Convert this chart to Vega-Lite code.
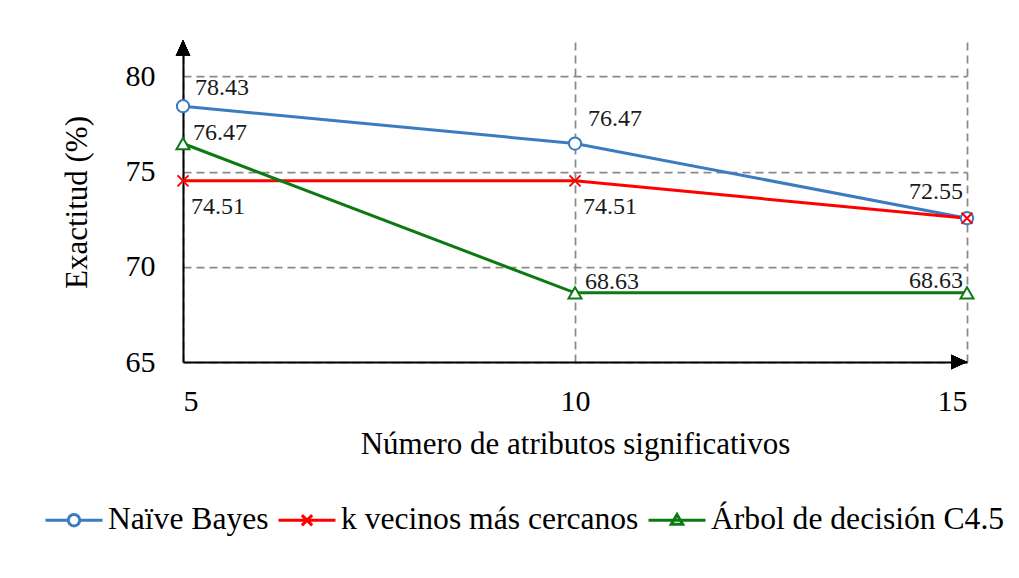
{
  "$schema": "https://vega.github.io/schema/vega-lite/v6.json",
  "width": 784,
  "height": 320,
  "autosize": {"type": "none"},
  "padding": {"left": 183, "top": 42, "right": 52, "bottom": 216},
  "background": "white",
  "config": {
    "view": {"stroke": null},
    "font": "Liberation Serif",
    "axis": {
      "domainColor": "black",
      "domainWidth": 2,
      "ticks": false,
      "tickSize": 0,
      "gridColor": "#8a8a8a",
      "gridDash": [8, 5],
      "gridWidth": 1.75,
      "labelFont": "Liberation Serif",
      "labelFontSize": 30,
      "labelColor": "black",
      "titleFont": "Liberation Serif",
      "titleFontSize": 31,
      "titleFontWeight": "normal",
      "titleColor": "black"
    },
    "legend": {
      "orient": "none",
      "legendX": -139,
      "legendY": 448,
      "direction": "horizontal",
      "symbolSize": 3249,
      "symbolStrokeWidth": 3,
      "symbolFillColor": "transparent",
      "symbolOpacity": 1,
      "labelFont": "Liberation Serif",
      "labelFontSize": 31.6,
      "labelColor": "black",
      "labelOffset": 4,
      "columnPadding": 3,
      "labelLimit": 600
    },
    "text": {"font": "Liberation Serif"}
  },
  "data": {
    "values": [
      {"atributos": 5, "serie": "Naïve Bayes", "exactitud": 78.43},
      {"atributos": 10, "serie": "Naïve Bayes", "exactitud": 76.47},
      {"atributos": 15, "serie": "Naïve Bayes", "exactitud": 72.55},
      {"atributos": 5, "serie": "k vecinos más cercanos", "exactitud": 74.51},
      {"atributos": 10, "serie": "k vecinos más cercanos", "exactitud": 74.51},
      {"atributos": 15, "serie": "k vecinos más cercanos", "exactitud": 72.55},
      {"atributos": 5, "serie": "Árbol de decisión C4.5", "exactitud": 76.47},
      {"atributos": 10, "serie": "Árbol de decisión C4.5", "exactitud": 68.63},
      {"atributos": 15, "serie": "Árbol de decisión C4.5", "exactitud": 68.63}
    ]
  },
  "encoding": {
    "x": {
      "field": "atributos",
      "type": "quantitative",
      "scale": {"domain": [5, 15], "nice": false, "zero": false},
      "axis": {
        "values": [5, 10, 15],
        "format": "d",
        "title": "Número de atributos significativos",
        "labelPadding": 24,
        "titlePadding": 13,
        "grid": true
      }
    },
    "y": {
      "field": "exactitud",
      "type": "quantitative",
      "scale": {"domain": [65, 81.8], "nice": false, "zero": false},
      "axis": {
        "values": [65, 70, 75, 80],
        "format": "d",
        "title": "Exactitud (%)",
        "labelPadding": 28,
        "titlePadding": 32,
        "grid": true
      }
    }
  },
  "layer": [
    {
      "mark": {"type": "point", "filled": false, "strokeWidth": 3, "opacity": 0},
      "encoding": {
        "color": {
          "field": "serie",
          "type": "nominal",
          "scale": {
            "domain": ["Naïve Bayes", "k vecinos más cercanos", "Árbol de decisión C4.5"],
            "range": ["#3b7cc0", "#ff0000", "#0c7a12"]
          },
          "legend": {"title": null, "labelFont": "Liberation Serif"}
        },
        "shape": {
          "field": "serie",
          "type": "nominal",
          "scale": {
            "domain": ["Naïve Bayes", "k vecinos más cercanos", "Árbol de decisión C4.5"],
            "range": [
              "M-1,0L-0.2,0M0.2,0L1,0M0.2,0A0.2,0.2,0,1,1,-0.2,0A0.2,0.2,0,1,1,0.2,0",
              "M-1,0L1,0M-0.18,-0.18L0.18,0.18M-0.18,0.18L0.18,-0.18",
              "M-1,0L1,0M0,-0.2L0.2,0.14L-0.2,0.14Z"
            ]
          },
          "legend": {"title": null, "labelFont": "Liberation Serif"}
        }
      }
    },
    {
      "mark": {"type": "line", "strokeWidth": 3},
      "encoding": {
        "color": {"field": "serie", "type": "nominal", "legend": null}
      }
    },
    {
      "transform": [{"filter": "datum.serie == 'Naïve Bayes'"}],
      "mark": {"type": "point", "shape": "circle", "size": 150, "filled": true, "fill": "white", "stroke": "#3b7cc0", "strokeWidth": 2, "opacity": 1}
    },
    {
      "transform": [{"filter": "datum.serie == 'k vecinos más cercanos'"}],
      "mark": {"type": "point", "shape": "M-1,-1L1,1M-1,1L1,-1", "size": 121, "filled": false, "stroke": "#ff0000", "strokeWidth": 2, "opacity": 1}
    },
    {
      "transform": [{"filter": "datum.serie == 'Árbol de decisión C4.5'"}],
      "mark": {"type": "point", "shape": "triangle-up", "size": 170, "filled": true, "fill": "white", "stroke": "#0c7a12", "strokeWidth": 2, "opacity": 1}
    },
    {
      "mark": {"type": "point", "shape": "M0,0L0.45,1L-0.45,1Z", "size": 1024, "filled": true, "color": "black", "opacity": 1},
      "encoding": {"x": {"datum": 5}, "y": {"datum": 81.9}}
    },
    {
      "mark": {"type": "point", "shape": "M0,0L-1,-0.45L-1,0.45Z", "size": 1024, "filled": true, "color": "black", "opacity": 1},
      "encoding": {"x": {"datum": 15}, "y": {"datum": 65}}
    },
    {
      "transform": [{"filter": "datum.serie == 'Naïve Bayes' && datum.atributos == 5"}],
      "mark": {"type": "text", "font": "Liberation Serif", "align": "left", "baseline": "middle", "dx": 12, "dy": -18, "fontSize": 24, "color": "#1a1a1a"},
      "encoding": {"text": {"field": "exactitud", "type": "quantitative", "format": ".2f"}}
    },
    {
      "transform": [{"filter": "datum.serie == 'Naïve Bayes' && datum.atributos == 10"}],
      "mark": {"type": "text", "font": "Liberation Serif", "align": "left", "baseline": "middle", "dx": 13, "dy": -25, "fontSize": 24, "color": "#1a1a1a"},
      "encoding": {"text": {"field": "exactitud", "type": "quantitative", "format": ".2f"}}
    },
    {
      "transform": [{"filter": "datum.serie == 'Naïve Bayes' && datum.atributos == 15"}],
      "mark": {"type": "text", "font": "Liberation Serif", "align": "right", "baseline": "middle", "dx": -4, "dy": -26, "fontSize": 24, "color": "#1a1a1a"},
      "encoding": {"text": {"field": "exactitud", "type": "quantitative", "format": ".2f"}}
    },
    {
      "transform": [{"filter": "datum.serie == 'k vecinos más cercanos' && datum.atributos < 15"}],
      "mark": {"type": "text", "font": "Liberation Serif", "align": "left", "baseline": "middle", "dx": 8, "dy": 26, "fontSize": 24, "color": "#1a1a1a"},
      "encoding": {"text": {"field": "exactitud", "type": "quantitative", "format": ".2f"}}
    },
    {
      "transform": [{"filter": "datum.serie == 'Árbol de decisión C4.5' && datum.atributos < 15"}],
      "mark": {"type": "text", "font": "Liberation Serif", "align": "left", "baseline": "middle", "dx": 10, "dy": -11, "fontSize": 24, "color": "#1a1a1a"},
      "encoding": {"text": {"field": "exactitud", "type": "quantitative", "format": ".2f"}}
    },
    {
      "transform": [{"filter": "datum.serie == 'Árbol de decisión C4.5' && datum.atributos == 15"}],
      "mark": {"type": "text", "font": "Liberation Serif", "align": "right", "baseline": "middle", "dx": -4, "dy": -12, "fontSize": 24, "color": "#1a1a1a"},
      "encoding": {"text": {"field": "exactitud", "type": "quantitative", "format": ".2f"}}
    }
  ]
}
